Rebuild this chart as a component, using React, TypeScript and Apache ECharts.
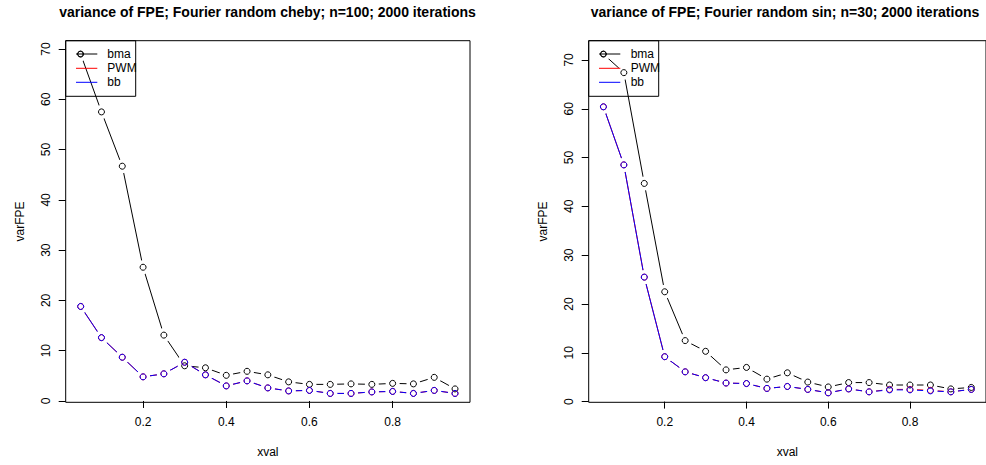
import React, { useEffect, useRef } from 'react';
import * as echarts from 'echarts';

const xval = [0.05, 0.1, 0.15, 0.2, 0.25, 0.3, 0.35, 0.4, 0.45, 0.5, 0.55, 0.6, 0.65, 0.7, 0.75, 0.8, 0.85, 0.9, 0.95];

const leftTitle = 'variance of FPE; Fourier random cheby; n=100; 2000 iterations';
const leftBma = [69.0, 57.5, 46.7, 26.6, 13.1, 7.0, 6.6, 5.1, 5.9, 5.2, 3.8, 3.3, 3.3, 3.4, 3.3, 3.5, 3.4, 4.7, 2.4];
const leftPwm = [18.8, 12.6, 8.7, 4.8, 5.4, 7.7, 5.2, 3.0, 4.0, 2.6, 2.0, 2.1, 1.5, 1.5, 1.8, 1.9, 1.5, 2.1, 1.5];
const leftBb = [18.8, 12.6, 8.7, 4.8, 5.4, 7.7, 5.2, 3.0, 4.0, 2.6, 2.0, 2.1, 1.5, 1.5, 1.8, 1.9, 1.5, 2.1, 1.5];

const rightTitle = 'variance of FPE; Fourier random sin; n=30; 2000 iterations';
const rightBma = [71.2, 67.4, 44.7, 22.5, 12.5, 10.3, 6.5, 7.0, 4.6, 5.9, 4.0, 3.0, 3.9, 3.9, 3.4, 3.4, 3.4, 2.6, 2.9];
const rightPwm = [60.4, 48.5, 25.5, 9.2, 6.1, 4.9, 3.8, 3.7, 2.7, 3.1, 2.5, 1.8, 2.6, 2.0, 2.5, 2.5, 2.3, 2.0, 2.5];
const rightBb = [60.4, 48.5, 25.5, 9.2, 6.1, 4.9, 3.8, 3.7, 2.7, 3.1, 2.5, 1.8, 2.6, 2.0, 2.4, 2.4, 2.2, 2.0, 2.5];

const xTicks = [0.2, 0.4, 0.6, 0.8];
const yTicks = [0, 10, 20, 30, 40, 50, 60, 70];
const seriesNames = ['bma', 'PWM', 'bb'];
const seriesColors = ['#000000', '#ff0000', '#0000ff'];
const xName = 'xval';
const yName = 'varFPE';

const FONT = '"Liberation Sans", Arial, Helvetica, sans-serif';
const GAP_COLOR = '#ffffff';

function padRange(vals: number[]): [number, number] {
  const mn = Math.min(...vals);
  const mx = Math.max(...vals);
  const d = (mx - mn) * 0.04;
  return [mn - d, mx + d];
}

const panels = [
  { title: leftTitle, data: [leftBma, leftPwm, leftBb], left: 65.7, titleX: 267.5 },
  { title: rightTitle, data: [rightBma, rightPwm, rightBb], left: 588.7, titleX: 785 },
];

const GRID_TOP = 40.7;
const GRID_H = 361.6;
const GRID_W = 404.3;

export default function App() {
  const ref = useRef<HTMLDivElement>(null);
  useEffect(() => {
    if (!ref.current) return;
    const chart = echarts.init(ref.current, undefined, { renderer: 'svg' });
    const [xmin, xmax] = padRange(xval);

    const grids: any[] = [];
    const xAxes: any[] = [];
    const yAxes: any[] = [];
    const series: any[] = [];
    const titles: any[] = [];
    const graphics: any[] = [];

    panels.forEach((p, i) => {
      const [ymin, ymax] = padRange(p.data[0]);
      grids.push({
        left: p.left,
        top: GRID_TOP,
        width: GRID_W,
        height: GRID_H,
        show: true,
        borderColor: '#000',
        borderWidth: 1,
        backgroundColor: 'transparent',
        containLabel: false,
      });
      xAxes.push({
        type: 'value',
        gridIndex: i,
        min: xmin,
        max: xmax,
        name: xName,
        nameLocation: 'middle',
        nameGap: 44,
        nameTextStyle: { fontFamily: FONT, fontSize: 12, color: '#000' },
        axisLine: { show: false },
        splitLine: { show: false },
        axisTick: { show: true, length: 7, lineStyle: { color: '#000', width: 1 }, customValues: xTicks },
        axisLabel: { show: true, fontFamily: FONT, fontSize: 12, color: '#000', margin: 14, customValues: xTicks, formatter: (v: number) => String(v) },
      });
      yAxes.push({
        type: 'value',
        gridIndex: i,
        min: ymin,
        max: ymax,
        name: yName,
        nameLocation: 'middle',
        nameGap: 40,
        nameRotate: 90,
        nameTextStyle: { fontFamily: FONT, fontSize: 12, color: '#000' },
        axisLine: { show: false },
        splitLine: { show: false },
        axisTick: { show: true, length: 7, lineStyle: { color: '#000', width: 1 }, customValues: yTicks },
        axisLabel: { show: true, rotate: 90, fontFamily: FONT, fontSize: 12, color: '#000', margin: 14, customValues: yTicks, formatter: (v: number) => String(v) },
      });
      // connecting lines
      p.data.forEach((vals, k) => {
        series.push({
          type: 'line',
          xAxisIndex: i,
          yAxisIndex: i,
          data: xval.map((x, j) => [x, vals[j]]),
          showSymbol: false,
          lineStyle: { color: seriesColors[k], width: 1 },
          z: 2,
          silent: true,
        });
      });
      // gaps around the points (R type = "b")
      p.data.forEach((vals) => {
        series.push({
          type: 'scatter',
          xAxisIndex: i,
          yAxisIndex: i,
          data: xval.map((x, j) => [x, vals[j]]),
          symbol: 'circle',
          symbolSize: 14,
          itemStyle: { color: GAP_COLOR, opacity: 1 },
          z: 3,
          silent: true,
        });
      });
      // open circles
      p.data.forEach((vals, k) => {
        series.push({
          type: 'scatter',
          xAxisIndex: i,
          yAxisIndex: i,
          data: xval.map((x, j) => [x, vals[j]]),
          symbol: 'circle',
          symbolSize: 6,
          itemStyle: { color: 'rgba(255,255,255,0)', borderColor: seriesColors[k], borderWidth: 1, opacity: 1 },
          z: 4,
          silent: true,
        });
      });
      titles.push({
        text: p.title,
        left: p.titleX,
        top: 5,
        padding: 0,
        textAlign: 'center',
        textStyle: { fontFamily: FONT, fontSize: 14, fontWeight: 'bold', color: '#000' },
      });

      // R-style legend box
      const lx = p.left;
      const ly = GRID_TOP;
      const rowY = [13.3, 27.6, 41.6];
      const textX = i === 0 ? 41.6 : 42;
      graphics.push({
        type: 'rect',
        shape: { x: lx, y: ly, width: 70, height: 55.6 },
        style: { fill: 'none', stroke: '#000', lineWidth: 1 },
        z: 10,
      });
      seriesNames.forEach((nm, k) => {
        graphics.push({
          type: 'line',
          shape: { x1: lx + 10.3, y1: ly + rowY[k], x2: lx + 31.6, y2: ly + rowY[k] },
          style: { stroke: seriesColors[k], lineWidth: 1 },
          z: 10,
        });
        if (k === 0) {
          graphics.push({
            type: 'circle',
            shape: { cx: lx + 14.6, cy: ly + rowY[k], r: 2.7 },
            style: { fill: 'none', stroke: seriesColors[k], lineWidth: 1 },
            z: 10,
          });
        }
        graphics.push({
          type: 'text',
          x: lx + textX,
          y: ly + rowY[k],
          style: { text: nm, fontFamily: FONT, fontSize: 12, fill: '#000', verticalAlign: 'middle' },
          z: 10,
        });
      });
    });

    chart.setOption({
      animation: false,
      backgroundColor: '#ffffff',
      title: titles,
      grid: grids,
      xAxis: xAxes,
      yAxis: yAxes,
      series,
      graphic: graphics,
    });
    return () => chart.dispose();
  }, []);
  return <div ref={ref} style={{ position: 'fixed', left: 0, top: 0, width: 986, height: 465 }} />;
}
